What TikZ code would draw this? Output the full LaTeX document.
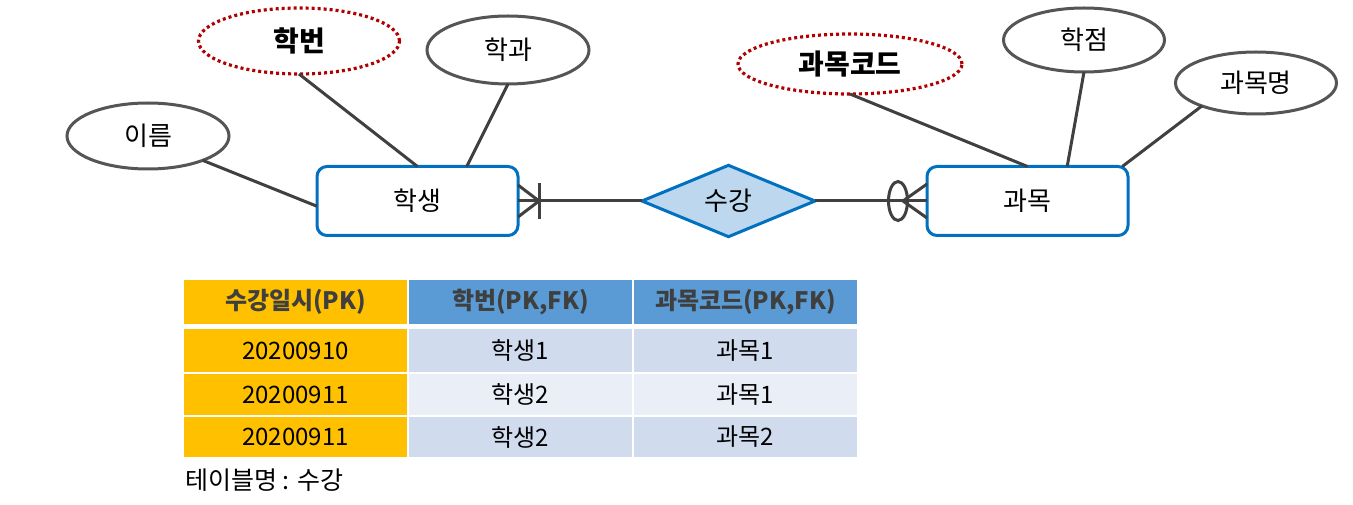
\documentclass[tikz,border=0pt]{standalone}
\usepackage{fontspec}
\setmainfont{Noto Sans CJK KR}
\usetikzlibrary{shapes.geometric}
\definecolor{eblue}{HTML}{0070C0}
\definecolor{relfill}{HTML}{BDD7EE}
\definecolor{attrgray}{HTML}{555555}
\definecolor{conngray}{HTML}{404040}
\definecolor{keyred}{HTML}{B00000}
\definecolor{gold}{HTML}{FFC000}
\definecolor{hblue}{HTML}{5B9BD5}
\definecolor{rowa}{HTML}{D0DBEE}
\definecolor{rowb}{HTML}{E9EEF7}
\definecolor{htext}{HTML}{3F3F3F}
\tikzset{
  entity/.style={draw=eblue, line width=3pt, rounded corners=10pt, fill=white,
    minimum width=201pt, minimum height=69pt, inner sep=0pt, outer sep=0pt, font=\fontsize{26}{30}\selectfont},
  relship/.style={draw=eblue, fill=relfill, line width=3pt, diamond, minimum width=173pt,
    minimum height=70pt, inner sep=0pt, outer sep=0pt, font=\fontsize{26}{30}\selectfont},
  attr/.style={draw=attrgray, line width=3pt, ellipse, inner sep=0pt, outer sep=0pt, fill=white,
    font=\fontsize{26}{30}\selectfont},
  keyattr/.style={draw=keyred, line width=3.2pt, dash pattern=on 3pt off 3pt, ellipse, inner sep=0pt,
    outer sep=0pt, fill=white, font=\fontsize{28}{32}\selectfont\bfseries},
  conn/.style={draw=conngray, line width=3pt},
  cell/.style={rectangle, inner sep=0pt, outer sep=0pt, minimum width=223pt,
    font=\fontsize{24}{28}\selectfont},
  headcell/.style={cell, text=htext, font=\fontsize{24}{28}\selectfont\bfseries},
}
\begin{document}
\begin{tikzpicture}[x=1pt,y=-1pt]
\useasboundingbox[fill=white] (0,0) rectangle (1353,505);

% entities and relationship
\node[entity] (student) at (417.5,201) {학생};
\node[entity] (subject) at (1027.5,201) {과목};
\node[relship] (enroll) at (728.5,201) {수강};

% attributes
\node[attr, minimum width=162pt, minimum height=66pt] (ireum) at (148,136) {이름};
\node[keyattr, minimum width=201pt, minimum height=66pt] (hakbeon) at (299,41) {학번};
\node[attr, minimum width=162pt, minimum height=68pt] (hakgwa) at (508,50) {학과};
\node[keyattr, minimum width=224pt, minimum height=60pt] (code) at (850,64) {과목코드};
\node[attr, minimum width=161pt, minimum height=64pt] (hakjeom) at (1084,40) {학점};
\node[attr, minimum width=161pt, minimum height=62pt] (gwamokmyeong) at (1256,83) {과목명};

% attribute connectors
\draw[conn] (ireum.-24) -- (student.183);
\draw[conn] (hakbeon.south) -- (student.north);
\draw[conn] (hakgwa.south) -- (student.35);
\draw[conn] (code.south) -- (subject.north);
\draw[conn] (hakjeom.south) -- (subject.41.5);
\draw[conn] (gwamokmyeong.203) -- (subject.20);

% relationship connectors
\draw[conn] (student.east) -- (enroll.west);
\draw[conn] (enroll.east) -- (subject.west);

% crow's foot at student (one or many)
\coordinate (lbar) at ([xshift=21pt]student.east);
\draw[conn] ([yshift=16pt]student.east) -- (lbar) -- ([yshift=-16pt]student.east);
\draw[conn] ([yshift=18pt]lbar) -- ([yshift=-18pt]lbar);

% crow's foot at subject (zero or many)
\coordinate (rfoot) at ([xshift=-24pt]subject.west);
\draw[conn] ([yshift=17pt]subject.west) -- (rfoot) -- ([yshift=-17pt]subject.west);
\node[draw=conngray, line width=3pt, ellipse, minimum width=19pt, minimum height=39pt, inner sep=0pt] (ring) at ([xshift=-5pt]rfoot) {};

% table
\node[headcell, fill=gold, minimum height=44pt] (h1) at (295.5,302) {수강일시(PK)};
\node[headcell, fill=hblue, minimum height=44pt] (h2) at (520.5,302) {학번(PK,FK)};
\node[headcell, fill=hblue, minimum height=44pt] (h3) at (745.5,302) {과목코드(PK,FK)};

\node[cell, fill=gold, minimum height=43pt] (a1) at (295.5,350.5) {20200910};
\node[cell, fill=rowa, minimum height=43pt] (a2) at (520.5,350.5) {학생1};
\node[cell, fill=rowa, minimum height=43pt] (a3) at (745.5,350.5) {과목1};

\node[cell, fill=gold, minimum height=41pt] (b1) at (295.5,394.5) {20200911};
\node[cell, fill=rowb, minimum height=41pt] (b2) at (520.5,394.5) {학생2};
\node[cell, fill=rowb, minimum height=41pt] (b3) at (745.5,394.5) {과목1};

\node[cell, fill=gold, minimum height=40pt] (c1) at (295.5,437) {20200911};
\node[cell, fill=rowa, minimum height=40pt] (c2) at (520.5,437) {학생2};
\node[cell, fill=rowa, minimum height=40pt] (c3) at (745.5,437) {과목2};

\node[anchor=west, inner sep=0pt, font=\fontsize{25}{29}\selectfont] (caption) at (185,480) {테이블명 : 수강};
\end{tikzpicture}
\end{document}
